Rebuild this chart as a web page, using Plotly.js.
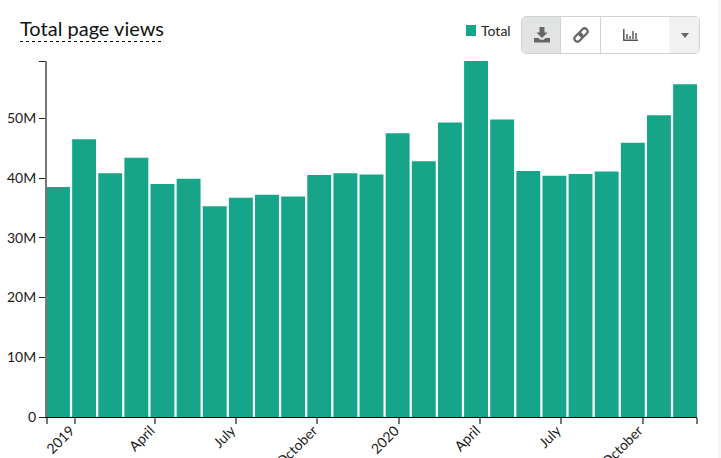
<!DOCTYPE html>
<html><head><meta charset="utf-8">
<script src="https://cdn.plot.ly/plotly-3.0.1.min.js"></script>
<style>
html,body{margin:0;padding:0;background:#f6f6f6;overflow:hidden;width:721px;height:458px}
#wrap{position:relative;width:718px;height:458px;background:#fff;overflow:hidden}
#chart{position:absolute;left:0;top:0;width:718px;height:458px}
#tb{position:absolute;left:521px;top:16px;width:179px;height:38px;box-sizing:border-box;border:1px solid #cfd3d3;border-radius:5px;background:#fff;overflow:hidden}
#tb div{position:absolute;top:0;height:36px;box-sizing:border-box}
#tb svg{position:absolute}
</style></head><body>
<div id="wrap"><div id="chart"></div>
<div id="tb">
 <div style="left:0;width:39px;background:#e2e4e4;border-right:1px solid #cfd3d3">
  <svg style="left:12px;top:10px" width="16" height="16" viewBox="0 0 16 16"><path fill="#666" d="M5.500 0h5v5.500h3L8 11 2.500 5.500h3zM0 11h4.500l1.800 1.800h3.400L11.500 11H16v4.500H0z"/></svg>
 </div>
 <div style="left:39px;width:40px;border-right:1px solid #cfd3d3">
  <svg style="left:12px;top:10px" width="16" height="16" viewBox="0 0 16 16"><g fill="none" stroke="#666" stroke-width="2.200"><rect x="6" y="2.500" width="9" height="6" rx="3" transform="rotate(-45 10.500 5.500)"/><rect x="1" y="7.500" width="9" height="6" rx="3" transform="rotate(-45 5.500 10.500)"/></g></svg>
 </div>
 <div style="width:31px;left:147px;background:#f1f1f1">
  <svg style="left:12px;top:16px" width="8" height="5" viewBox="0 0 8 5"><path fill="#666" d="M0 0h8L4 5z"/></svg>
 </div>
 <svg style="left:101px;top:12px" width="15" height="12" viewBox="0 0 15 12"><path fill="none" stroke="#555" stroke-width="1.500" d="M.8 0v11.200H15"/><path fill="none" stroke="#666" stroke-width="1.600" d="M4 5v5M7 7v3M10 2v8M13 4v6"/></svg>
</div></div>
<script>
var months = ["2018-12","2019-01","2019-02","2019-03","2019-04","2019-05","2019-06","2019-07","2019-08","2019-09","2019-10","2019-11","2019-12","2020-01","2020-02","2020-03","2020-04","2020-05","2020-06","2020-07","2020-08","2020-09","2020-10","2020-11","2020-12"];
var totals = [38.5,46.5,40.8,43.4,39.0,39.9,35.3,36.7,37.2,36.9,40.5,40.8,40.6,47.5,42.8,49.3,59.6,49.8,41.2,40.4,40.7,41.1,45.9,50.5,55.7];
var tickDates = ["2018-12-01","2019-01-01","2019-04-01","2019-07-01","2019-10-01","2020-01-01","2020-04-01","2020-07-01","2020-10-01","2020-12-01"];
var tickLabels = ["","2019","April","July","October","2020","April","July","October",""];
var yTicks = [0,10,20,30,40,50,59.6];
var yLabels = ["0","10M","20M","30M","40M","50M",""];
var seriesName = "Total";
var titleText = "Total page views";

var W = 650, H = 356, L = 47, T = 61;
function px(x){return (x-L)/W;}
function py(y){return 1-(y-T)/H;}
var barColor = "#17a589";
var lato = "Lato, sans-serif";

Plotly.newPlot("chart",[
 {type:"bar",name:seriesName,x:months,y:totals,marker:{color:barColor},offset:-0.5,width:0.915,cliponaxis:false,xaxis:"x",yaxis:"y",showlegend:false,hoverinfo:"x+y"},
 {type:"scatter",mode:"markers",x:tickDates,y:tickDates.map(function(){return 0;}),marker:{opacity:0,size:1},xaxis:"x2",yaxis:"y",showlegend:false,hoverinfo:"skip"}
],{
 width:718,height:458,paper_bgcolor:"#fff",plot_bgcolor:"#fff",
 margin:{l:L,r:21,t:T,b:41,pad:0},
 font:{family:lato,size:14,color:"#1a1a1a"},
 title:{text:titleText,font:{family:lato,size:20,color:"#111"},xref:"container",yref:"container",x:20/718,xanchor:"left",y:1-29/458,yanchor:"middle",pad:{l:0,r:0,t:0,b:0}},
 showlegend:false,
 xaxis:{type:"category",range:[-0.462,24.414],showticklabels:false,ticks:"",showgrid:false,zeroline:false,showline:true,linecolor:"#000",linewidth:1,categoryorder:"array",categoryarray:months},
 xaxis2:{type:"date",overlaying:"x",side:"bottom",anchor:"y",range:["2018-12-01","2020-12-01"],tickmode:"array",tickvals:tickDates,ticktext:tickLabels,tickangle:-45,ticks:"outside",ticklen:6,tickwidth:2,tickcolor:"#777",showgrid:false,zeroline:false,showline:false,ticklabelstandoff:-7,ticklabelshift:-4,tickfont:{family:lato,size:14,color:"#1a1a1a"}},
 yaxis:{range:[0,59.6],tickmode:"array",tickvals:yTicks,ticktext:yLabels,ticks:"outside",ticklen:6,tickwidth:1,tickcolor:"#222",showgrid:false,zeroline:false,showline:true,linecolor:"#777",linewidth:2,tickfont:{family:lato,size:14,color:"#1a1a1a"}},
 annotations:[{xref:"paper",yref:"paper",x:px(479),y:py(31),xanchor:"left",yanchor:"middle",showarrow:false,text:seriesName,font:{family:lato,size:14,color:"#222"}}],
 shapes:[
  {type:"line",xref:"paper",yref:"paper",x0:px(20),x1:px(164),y0:py(41.5),y1:py(41.5),line:{color:"#000",width:1,dash:"3px,3px"}},
  {type:"rect",xref:"paper",yref:"paper",x0:px(466),x1:px(476),y0:py(25),y1:py(36),line:{width:0},fillcolor:barColor}
 ]
},{staticPlot:true,displayModeBar:false});
</script></body></html>
